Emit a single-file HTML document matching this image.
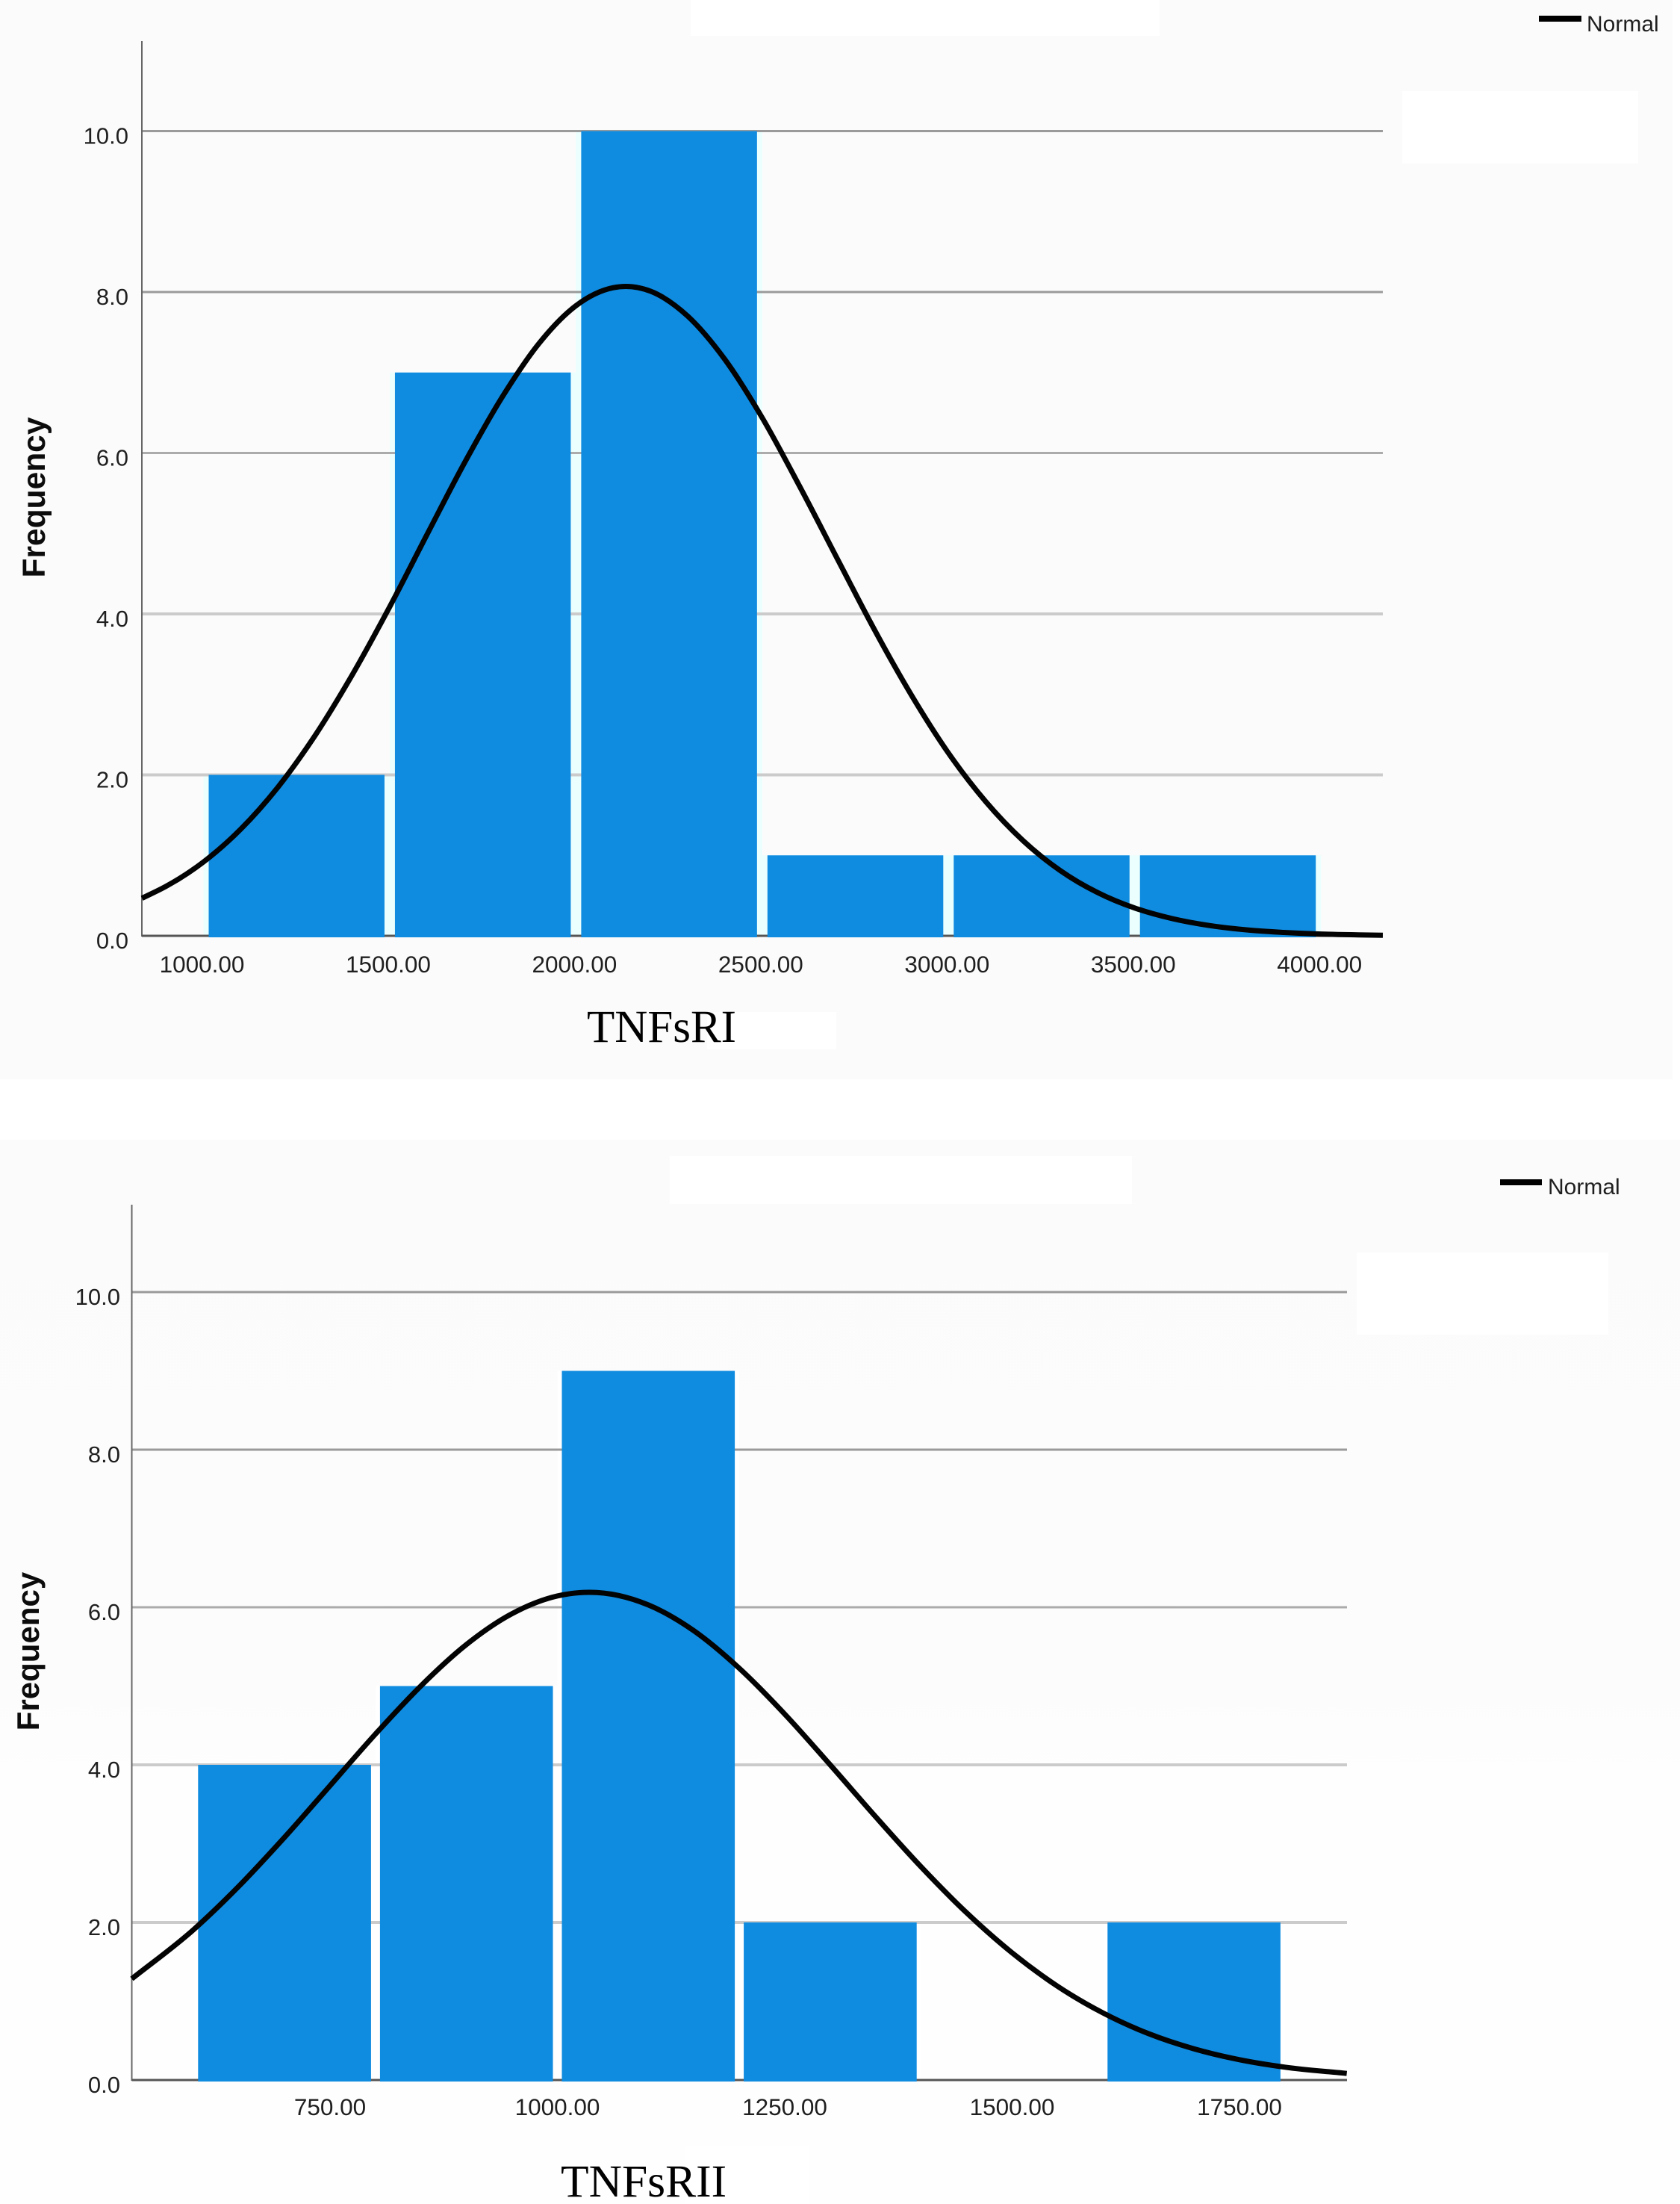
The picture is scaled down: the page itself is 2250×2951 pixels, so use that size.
<!DOCTYPE html>
<html lang="en">
<head>
<meta charset="utf-8">
<title>TNFsRI and TNFsRII histograms</title>
<style>
html,body{margin:0;padding:0;background:#fff;width:2250px;height:2951px;overflow:hidden}
svg{display:block}
text{font-family:"Liberation Sans",Arial,sans-serif;fill:#1f1f1f}
.serif{font-family:"Liberation Serif","Times New Roman",serif;fill:#000}
.ytitle{font-weight:bold;fill:#0c0c0c}
</style>
</head>
<body>
<svg id="fig" xmlns="http://www.w3.org/2000/svg" width="2250" height="2951" viewBox="0 0 2250 2951">
  <defs>
    <linearGradient id="lowerBg" x1="0" y1="0" x2="0" y2="1">
      <stop offset="0" stop-color="#fbfbfb"/>
      <stop offset="0.5" stop-color="#fcfcfc"/>
      <stop offset="0.62" stop-color="#fefefe"/>
      <stop offset="1" stop-color="#fefefe"/>
    </linearGradient>
  </defs>
  <rect x="0" y="0" width="2240" height="1445" fill="#fbfbfb"/>
  <rect x="0" y="1526" width="2250" height="1425" fill="url(#lowerBg)"/>
  <rect x="925" y="0" width="628" height="48" fill="#fff"/>
  <rect x="1878" y="122" width="316" height="97" fill="#fff"/>
  <rect x="947" y="1355" width="173" height="50" fill="#fff"/>
  <rect x="897" y="1548" width="619" height="64" fill="#fff"/>
  <rect x="1817" y="1677" width="337" height="110" fill="#fff"/>
  <rect x="918" y="2874" width="165" height="77" fill="#fff"/>
  <g id="upper-chart"></g>
  <g id="lower-chart"></g>
</svg>
<script>
// Shared frequency axis
const yTicks = [0, 2, 4, 6, 8, 10];

// TNFsRI histogram
const tnf1BinEdges = [1000, 1500, 2000, 2500, 3000, 3500, 4000];
const tnf1Counts = [2, 7, 10, 1, 1, 1];
const tnf1XTicks = [1000, 1500, 2000, 2500, 3000, 3500, 4000];
const tnf1CurveX = [835, 900, 1000, 1100, 1200, 1300, 1400, 1500, 1600, 1700, 1800, 1900, 2000, 2100, 2134, 2200, 2300, 2400, 2500, 2600, 2700, 2800, 2900, 3000, 3100, 3200, 3300, 3400, 3500, 3600, 3700, 3800, 3900, 4000, 4100, 4166];
const tnf1CurveY = [0.467, 0.616, 0.918, 1.325, 1.848, 2.492, 3.248, 4.09, 4.985, 5.871, 6.68, 7.357, 7.83, 8.054, 8.07, 8.01, 7.70, 7.16, 6.436, 5.59, 4.70, 3.815, 2.995, 2.27, 1.668, 1.183, 0.811, 0.538, 0.345, 0.214, 0.128, 0.074, 0.042, 0.022, 0.012, 0.0075];

// TNFsRII histogram
const tnf2BinEdges = [600, 800, 1000, 1200, 1400, 1600, 1800];
const tnf2Counts = [4, 5, 9, 2, 0, 2];
const tnf2XTicks = [750, 1000, 1250, 1500, 1750];
const tnf2CurveX = [532, 600, 650, 700, 750, 800, 850, 900, 950, 1000, 1035, 1100, 1150, 1200, 1250, 1300, 1350, 1400, 1450, 1500, 1550, 1600, 1650, 1700, 1750, 1800, 1868];
const tnf2CurveY = [1.284, 1.909, 2.463, 3.081, 3.736, 4.391, 5.003, 5.527, 5.918, 6.143, 6.19, 6.029, 5.702, 5.226, 4.644, 4.0, 3.34, 2.704, 2.122, 1.614, 1.19, 0.851, 0.589, 0.396, 0.258, 0.163, 0.083];

const NS = 'http://www.w3.org/2000/svg';

function make(parent, tag, attrs, text) {
  const el = document.createElementNS(NS, tag);
  for (const k in attrs) el.setAttribute(k, attrs[k]);
  if (text !== undefined) el.textContent = text;
  parent.appendChild(el);
  return el;
}

// Cubic Hermite through unevenly spaced points, so no kinks appear where spacing changes
function smoothPath(pts) {
  const n = pts.length;
  const slope = pts.map((p, i) => {
    if (i === 0) return (pts[1][1] - p[1]) / (pts[1][0] - p[0]);
    if (i === n - 1) return (p[1] - pts[i - 1][1]) / (p[0] - pts[i - 1][0]);
    const h0 = p[0] - pts[i - 1][0], h1 = pts[i + 1][0] - p[0];
    const s0 = (p[1] - pts[i - 1][1]) / h0, s1 = (pts[i + 1][1] - p[1]) / h1;
    return (s0 * h1 + s1 * h0) / (h0 + h1);
  });
  let d = 'M' + pts[0][0].toFixed(1) + ' ' + pts[0][1].toFixed(1);
  for (let i = 0; i < n - 1; i++) {
    const h = pts[i + 1][0] - pts[i][0];
    d += 'C' + (pts[i][0] + h / 3).toFixed(1) + ' ' + (pts[i][1] + slope[i] * h / 3).toFixed(1) + ' ' +
      (pts[i + 1][0] - h / 3).toFixed(1) + ' ' + (pts[i + 1][1] - slope[i + 1] * h / 3).toFixed(1) + ' ' +
      pts[i + 1][0].toFixed(1) + ' ' + pts[i + 1][1].toFixed(1);
  }
  return d;
}

function drawChart(cfg) {
  const root = document.getElementById(cfg.id);
  const x = v => cfg.x0 + (v - cfg.xv0) * cfg.xk;
  const y = v => cfg.y0 - v * cfg.yk;

  // pale bin backgrounds that show in the gaps between bars
  cfg.counts.forEach((c, i) => {
    const bin = make(root, 'rect', {x: x(cfg.edges[i]), y: y(c), width: x(cfg.edges[i + 1]) - x(cfg.edges[i]), height: c * cfg.yk, fill: cfg.halo});
    
    
  });

  // gridlines
  yTicks.filter(t => t > 0).forEach(t => {
    const line = make(root, 'line', {x1: cfg.left, x2: cfg.right, y1: y(t), y2: y(t),
      stroke: t >= 8 ? '#9a9a9a' : (t === 6 ? '#ababab' : '#cbcbcb'), 'stroke-width': t >= 6 ? 3 : 4});
    
    
  });

  // axes
  const yAxis = make(root, 'line', {x1: cfg.left, x2: cfg.left, y1: cfg.top, y2: cfg.y0 + 1, stroke: '#666', 'stroke-width': 2});
  
  
  const xAxis = make(root, 'line', {x1: cfg.left, x2: cfg.right, y1: cfg.y0, y2: cfg.y0, stroke: '#555', 'stroke-width': 3});
  
  

  // bars
  cfg.counts.forEach((c, i) => {
    const bx = x(cfg.edges[i]) + cfg.pad, bw = x(cfg.edges[i + 1]) - x(cfg.edges[i]) - cfg.pad * 2;
    const bar = make(root, 'rect', {x: bx, y: y(c), width: bw, height: c * cfg.yk + 2, fill: '#0f8be0'});
    if (c === 0) bar.setAttribute('height', 0);
    
    
  });

  // y ticks
  yTicks.forEach(t => {
    const lab = make(root, 'text', {x: cfg.yLabelX, y: y(t) + 17, 'text-anchor': 'end', 'font-size': 31}, t.toFixed(1));
    
    
  });

  // x ticks
  cfg.xTicks.forEach(t => {
    const lab = make(root, 'text', {x: cfg.labelX(t, x), y: cfg.xLabelY, 'text-anchor': 'middle', 'font-size': 31.5}, t.toFixed(2));
    
    
  });

  // normal curve
  const pts = cfg.curveX.map((v, i) => [x(v), y(cfg.curveY[i])]);
  const curve = make(root, 'path', {d: smoothPath(pts), fill: 'none', stroke: '#030303', 'stroke-width': 7});
  
  

  // y title
  const yt = make(root, 'text', {class: 'ytitle', 'font-size': cfg.titleSize, 'text-anchor': 'middle',
    transform: 'translate(' + cfg.titleX + ' ' + cfg.titleY + ') rotate(-90)'}, 'Frequency');
  
  

  // x title
  const xt = make(root, 'text', {class: 'serif', x: cfg.xTitleX, y: cfg.xTitleY, 'font-size': cfg.xTitleSize}, cfg.xTitle);
  
  

  // legend
  const ll = make(root, 'line', {x1: cfg.legX1, x2: cfg.legX2, y1: cfg.legY, y2: cfg.legY, stroke: '#000', 'stroke-width': 8});
  
  
  const lt = make(root, 'text', {x: cfg.legTX, y: cfg.legTY, 'font-size': 30}, 'Normal');
  
  
}

drawChart({
  id: 'upper-chart', left: 190, right: 1852, top: 55, y0: 1253, yk: 107.75,
  x0: 272.5, xv0: 1000, xk: 0.4989, pad: 7, halo: '#eafffe',
  edges: tnf1BinEdges, counts: tnf1Counts, xTicks: tnf1XTicks,
  labelX: (t, x) => x(t) - 2, curveX: tnf1CurveX, curveY: tnf1CurveY,
  yLabelX: 172, xLabelY: 1302, titleSize: 42.5, titleX: 60, titleY: 666,
  xTitle: 'TNFsRI', xTitleX: 786, xTitleY: 1395, xTitleSize: 61,
  legX1: 2061, legX2: 2118, legY: 25, legTX: 2125, legTY: 42
});

drawChart({
  id: 'lower-chart', left: 176.5, right: 1804, top: 1613, y0: 2785, yk: 105.5,
  x0: 442, xv0: 750, xk: 1.218, pad: 6, halo: '#ffffff',
  edges: tnf2BinEdges, counts: tnf2Counts, xTicks: tnf2XTicks,
  labelX: (t, x) => x(t), curveX: tnf2CurveX, curveY: tnf2CurveY,
  yLabelX: 161, xLabelY: 2832, titleSize: 42, titleX: 52, titleY: 2211,
  xTitle: 'TNFsRII', xTitleX: 751, xTitleY: 2941, xTitleSize: 61.5,
  legX1: 2009, legX2: 2065, legY: 1583, legTX: 2073, legTY: 1599
});
</script>
</body>
</html>
